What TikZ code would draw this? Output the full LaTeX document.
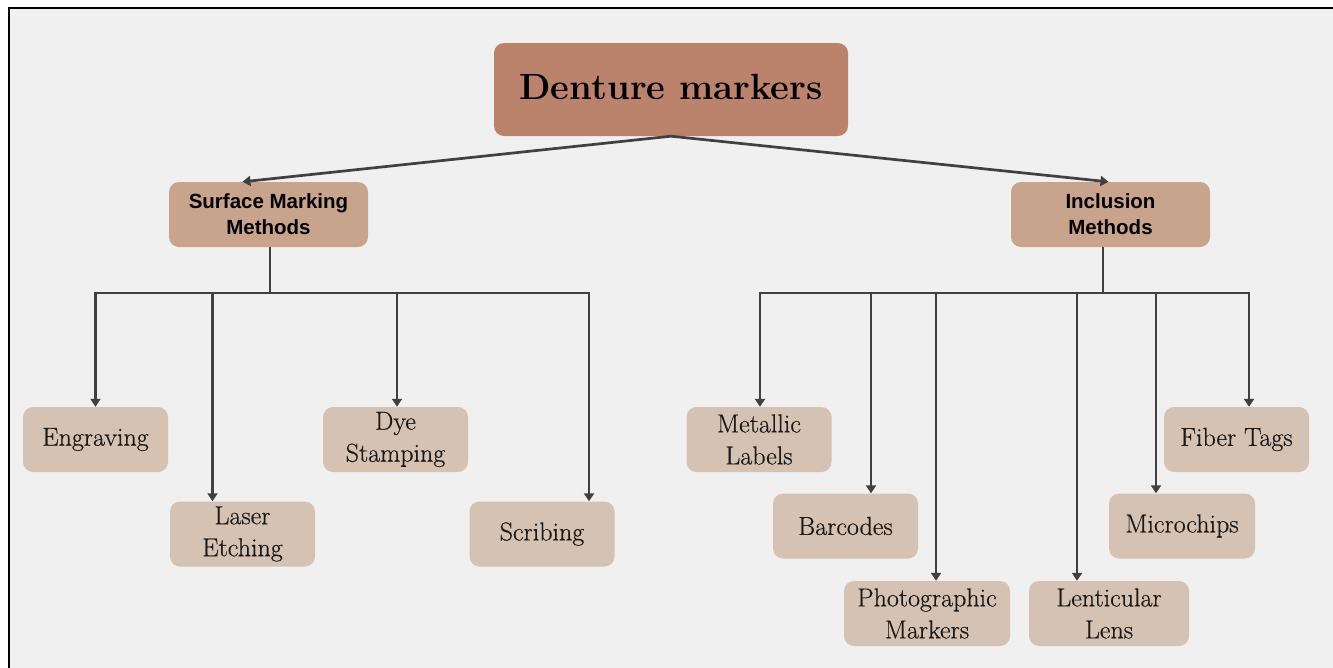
\documentclass[tikz,border=0pt]{standalone}
\usepackage{fontspec}
\newfontfamily\sansb{Liberation Sans}
\newfontfamily\leaffont[FakeBold=0.5]{Latin Modern Roman}
\usetikzlibrary{arrows.meta,calc}
\definecolor{bgc}{HTML}{F0F0F0}
\definecolor{mainc}{HTML}{BC836C}
\definecolor{midc}{HTML}{C9A48C}
\definecolor{leafc}{HTML}{D5C2B2}
\definecolor{linec}{HTML}{404040}
\tikzset{
  box/.style={rounded corners=10pt, inner sep=0pt, align=center, text=black},
  mainbox/.style={box, fill=mainc, minimum width=354pt, minimum height=93pt,
    font=\fontsize{36.5}{44}\selectfont\bfseries},
  midbox/.style={box, fill=midc, minimum width=199pt, minimum height=65pt,
    font=\sansb\bfseries\fontsize{20.5}{26}\selectfont},
  leafbox/.style={box, fill=leafc, minimum width=145pt, minimum height=65pt,
    font=\leaffont\fontsize{26}{32}\selectfont, text=black!90},
  conn/.style={draw=linec, line width=2.7pt},
  arr/.style={conn, -{Triangle[width=10pt,length=8pt]}}
}
\begin{document}
\begin{tikzpicture}[x=1pt,y=-1pt]
\clip (0,0) rectangle (1333,667);
\fill[white] (0,0) rectangle (1333,667);
\draw[line width=2.5pt, fill=bgc] (9,8) rectangle (1345,680);

\node[mainbox] (main) at (671,89.5) {\raisebox{5pt}{Denture markers}};
\node[midbox] (surf) at (268.5,214.5) {Surface Marking\\Methods};
\node[midbox] (incl) at (1110.5,214.5) {Inclusion\\Methods};

\node[leafbox] (engr) at (95.5,439.5) {Engraving};
\node[leafbox] (laser) at (242.5,534) {Laser\\Etching};
\node[leafbox] (dye) at (395.5,439.5) {Dye\\Stamping};
\node[leafbox] (scrib) at (542,534) {Scribing};

\node[leafbox] (metal) at (759,439.5) {Metallic\\Labels};
\node[leafbox] (barc) at (845.5,526) {Barcodes};
\node[leafbox, minimum width=166pt] (photo) at (927,613.5) {Photographic\\Markers};
\node[leafbox, minimum width=160pt] (lent) at (1109,613.5) {Lenticular\\Lens};
\node[leafbox, minimum width=146pt] (micro) at (1182,526) {Microchips};
\node[leafbox] (fiber) at (1236.5,439.5) {Fiber Tags};

\draw[arr] (main.south) -- ([xshift=-26pt]surf.north);
\draw[arr] (main.south) -- ([xshift=-2pt]incl.north);

\coordinate (busL) at (270,293);
\draw[conn] ([xshift=1.5pt]surf.south) -- (busL);
\draw[conn] (96,293) -- (589,293);
\draw[arr] (busL) -| (engr.north);
\draw[arr] (busL) -| ([xshift=-30pt]laser.north);
\draw[arr] (busL) -| ([xshift=1.5pt]dye.north);
\draw[arr] (busL) -| ([xshift=47pt]scrib.north);

\coordinate (busR) at (1103,293);
\draw[conn] ([xshift=-7.5pt]incl.south) -- (busR);
\draw[conn] (760,293) -- (1249,293);
\draw[arr] (busR) -| ([xshift=1pt]metal.north);
\draw[arr] (busR) -| ([xshift=25.5pt]barc.north);
\draw[arr] (busR) -| ([xshift=9pt]photo.north);
\draw[arr] (busR) -| ([xshift=-32pt]lent.north);
\draw[arr] (busR) -| ([xshift=-26pt]micro.north);
\draw[arr] (busR) -| ([xshift=12.5pt]fiber.north);
\end{tikzpicture}
\end{document}
